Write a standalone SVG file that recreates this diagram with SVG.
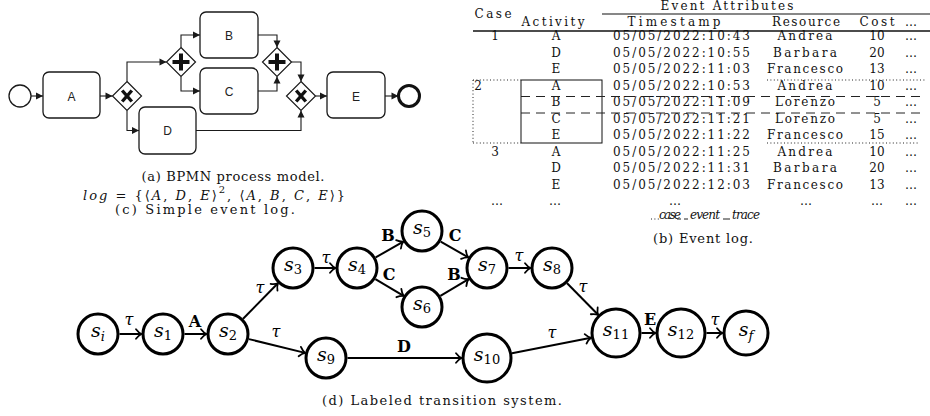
<svg xmlns="http://www.w3.org/2000/svg" width="930" height="416" viewBox="0 0 930 416">
  <defs>
    <marker id="tri" viewBox="-8 -5 9 10" refX="0" refY="0" markerWidth="9" markerHeight="10" markerUnits="userSpaceOnUse" orient="auto">
      <path d="M0,0 L-7,-3.5 L-7,3.5 Z" fill="#1a1a1a"/>
    </marker>
    <marker id="arr" viewBox="-8 -6 9 12" refX="0" refY="0" markerWidth="9" markerHeight="12" markerUnits="userSpaceOnUse" orient="auto" overflow="visible">
      <path d="M-5.5,-4.8 C-3.5,-2.2 -1.5,-0.7 0,0 C-1.5,0.7 -3.5,2.2 -5.5,4.8" fill="none" stroke="#000" stroke-width="1.8" stroke-linecap="round"/>
    </marker>
    <path id="diamond" d="M0,-14.5 L14.5,0 L0,14.5 L-14.5,0 Z"/>
  </defs>
  <style>
    .task { fill: #fff; stroke: #1a1a1a; stroke-width: 1.3; }
    .gw { fill: #fff; stroke: #1a1a1a; stroke-width: 1.2; }
    .gx { stroke: #111; stroke-width: 3.4; fill: none; }
    .gp { stroke: #111; stroke-width: 4; fill: none; }
    .bl { font-family: "Liberation Sans", Arial, sans-serif; font-size: 12px; fill: #222; text-anchor: middle; }
    .flow { fill: none; stroke: #1a1a1a; stroke-width: 1.1; marker-end: url(#tri); }
    .st { fill: #fff; stroke: #000; stroke-width: 3; }
    .sl { font-family: "DejaVu Serif", serif; font-size: 19px; font-style: italic; text-anchor: middle; fill: #000; }
    .sub { font-size: 13px; font-style: normal; }
    .subi { font-size: 13px; font-style: italic; }
    .ed { stroke: #000; stroke-width: 2; fill: none; marker-end: url(#arr); }
    .el { font-family: "DejaVu Serif", serif; font-size: 16px; font-weight: bold; text-anchor: middle; fill: #000; }
    .tau { font-family: "DejaVu Serif", serif; font-size: 16px; font-style: italic; text-anchor: middle; fill: #000; }
    .tb { font-family: "DejaVu Serif", serif; font-size: 12px; text-anchor: middle; fill: #111; }
    .cap { font-family: "DejaVu Serif", serif; font-size: 13px; text-anchor: middle; fill: #111; }
    .it { font-style: italic; }
    .rule { stroke: #111; fill: none; }
    .dot { stroke: #222; stroke-width: 1; stroke-dasharray: 1 2.4; fill: none; }
    .dash { stroke: #222; stroke-width: 1; stroke-dasharray: 9 6; fill: none; }
  </style>

  <rect width="930" height="416" fill="#fff"/>

  <!-- (a) BPMN process model -->
  <g id="bpmn">
    <g id="bpmn-flows">
      <path class="flow" d="M31,96 H43"/>
      <path class="flow" d="M100,96 H112.5"/>
      <path class="flow" d="M127,81.5 V62 H166.5"/>
      <path class="flow" d="M127,110.5 V130.5 H139"/>
      <path class="flow" d="M181,47.5 V35 H200"/>
      <path class="flow" d="M181,76.5 V91 H200"/>
      <path class="flow" d="M258,35 H277 V47.5"/>
      <path class="flow" d="M258,91 H277 V76.5"/>
      <path class="flow" d="M291.5,62 H301 V81.5"/>
      <path class="flow" d="M196,130.5 H301 V110.5"/>
      <path class="flow" d="M315.5,96 H327"/>
      <path class="flow" d="M385,96 H398.5"/>
    </g>
    <g id="start-event"><circle cx="20" cy="96" r="11" fill="#fff" stroke="#1a1a1a" stroke-width="1.3"/></g>
    <g id="task-A"><rect class="task" x="43" y="72" width="57" height="46" rx="6"/><text class="bl" x="71.5" y="100.5">A</text></g>
    <g id="xor-split" transform="translate(127,96)"><use href="#diamond" class="gw"/><path class="gx" d="M-4.8,-5.5 L4.8,5.5 M4.8,-5.5 L-4.8,5.5"/></g>
    <g id="and-split" transform="translate(181,62)"><use href="#diamond" class="gw"/><path class="gp" d="M-8.5,0 H8.5 M0,-8.5 V8.5"/></g>
    <g id="task-B"><rect class="task" x="200" y="12" width="58" height="46" rx="6"/><text class="bl" x="229" y="39.5">B</text></g>
    <g id="task-C"><rect class="task" x="200" y="68" width="58" height="46" rx="6"/><text class="bl" x="229" y="95.5">C</text></g>
    <g id="task-D"><rect class="task" x="139" y="107" width="57" height="47" rx="6"/><text class="bl" x="167.5" y="135">D</text></g>
    <g id="and-join" transform="translate(277,62)"><use href="#diamond" class="gw"/><path class="gp" d="M-8.5,0 H8.5 M0,-8.5 V8.5"/></g>
    <g id="xor-join" transform="translate(301,96)"><use href="#diamond" class="gw"/><path class="gx" d="M-4.8,-5.5 L4.8,5.5 M4.8,-5.5 L-4.8,5.5"/></g>
    <g id="task-E"><rect class="task" x="327" y="72" width="58" height="46" rx="6"/><text class="bl" x="356" y="100.5">E</text></g>
    <g id="end-event"><circle cx="409" cy="96" r="10.5" fill="#fff" stroke="#111" stroke-width="3"/></g>
  </g>
  <text class="cap" x="233" y="181" textLength="183">(a) BPMN process model.</text>
  <text class="cap" x="214" y="200" textLength="262"><tspan class="it">log</tspan> = {⟨<tspan class="it">A</tspan>, <tspan class="it">D</tspan>, <tspan class="it">E</tspan>⟩<tspan font-size="10" dy="-7">2</tspan><tspan dy="7">, ⟨</tspan><tspan class="it">A</tspan>, <tspan class="it">B</tspan>, <tspan class="it">C</tspan>, <tspan class="it">E</tspan>⟩}</text>
  <text class="cap" x="205" y="214" textLength="180">(c) Simple event log.</text>

  <!-- (b) Event log table -->
  <g id="event-log">
    <text class="tb" x="727" y="10" textLength="133">Event Attributes</text>
    <line class="rule" x1="602" y1="14" x2="930" y2="14" stroke-width="1.1"/>
    <text class="tb" x="493" y="18" textLength="37">Case</text>
    <text class="tb" x="553" y="26" textLength="63">Activity</text>
    <text class="tb" x="674" y="26" textLength="93">Timestamp</text>
    <text class="tb" x="806" y="26" textLength="68">Resource</text>
    <text class="tb" x="877" y="26" textLength="35">Cost</text>
    <text class="tb" x="911" y="26">…</text>
    <line class="rule" x1="473" y1="31" x2="930" y2="31" stroke-width="1.3"/>

    <g id="case-1">
      <text class="tb" x="495" y="40">1</text>
      <text class="tb" x="556" y="40">A</text><text class="tb" x="681.5" y="40" textLength="137">05/05/2022:10:43</text><text class="tb" x="805" y="40" textLength="55">Andrea</text><text class="tb" x="877" y="40">10</text><text class="tb" x="911" y="40">…</text>
      <text class="tb" x="556" y="56.5">D</text><text class="tb" x="681.5" y="56.5" textLength="137">05/05/2022:10:55</text><text class="tb" x="805" y="56.5" textLength="64">Barbara</text><text class="tb" x="877" y="56.5">20</text><text class="tb" x="911" y="56.5">…</text>
      <text class="tb" x="556" y="73">E</text><text class="tb" x="681.5" y="73" textLength="137">05/05/2022:11:03</text><text class="tb" x="805" y="73" textLength="76">Francesco</text><text class="tb" x="877" y="73">13</text><text class="tb" x="911" y="73">…</text>
    </g>
    <g id="case-2">
      <text class="tb" x="478" y="89.5">2</text>
      <text class="tb" x="556" y="89.5">A</text><text class="tb" x="681.5" y="89.5" textLength="137">05/05/2022:10:53</text><text class="tb" x="805" y="89.5" textLength="55">Andrea</text><text class="tb" x="877" y="89.5">10</text><text class="tb" x="911" y="89.5">…</text>
      <text class="tb" x="556" y="106">B</text><text class="tb" x="681.5" y="106" textLength="137">05/05/2022:11:09</text><text class="tb" x="805" y="106" textLength="60">Lorenzo</text><text class="tb" x="877" y="106">5</text><text class="tb" x="911" y="106">…</text>
      <text class="tb" x="556" y="122.5">C</text><text class="tb" x="681.5" y="122.5" textLength="137">05/05/2022:11:21</text><text class="tb" x="805" y="122.5" textLength="60">Lorenzo</text><text class="tb" x="877" y="122.5">5</text><text class="tb" x="911" y="122.5">…</text>
      <text class="tb" x="556" y="139">E</text><text class="tb" x="681.5" y="139" textLength="137">05/05/2022:11:22</text><text class="tb" x="805" y="139" textLength="76">Francesco</text><text class="tb" x="877" y="139">15</text><text class="tb" x="911" y="139">…</text>
    </g>
    <g id="case-3">
      <text class="tb" x="495" y="155.5">3</text>
      <text class="tb" x="556" y="155.5">A</text><text class="tb" x="681.5" y="155.5" textLength="137">05/05/2022:11:25</text><text class="tb" x="805" y="155.5" textLength="55">Andrea</text><text class="tb" x="877" y="155.5">10</text><text class="tb" x="911" y="155.5">…</text>
      <text class="tb" x="556" y="172">D</text><text class="tb" x="681.5" y="172" textLength="137">05/05/2022:11:31</text><text class="tb" x="805" y="172" textLength="64">Barbara</text><text class="tb" x="877" y="172">20</text><text class="tb" x="911" y="172">…</text>
      <text class="tb" x="556" y="188.5">E</text><text class="tb" x="681.5" y="188.5" textLength="137">05/05/2022:12:03</text><text class="tb" x="805" y="188.5" textLength="76">Francesco</text><text class="tb" x="877" y="188.5">13</text><text class="tb" x="911" y="188.5">…</text>
    </g>
    <g id="more-rows">
      <text class="tb" x="497" y="205">…</text><text class="tb" x="555" y="205">…</text><text class="tb" x="675" y="205">…</text><text class="tb" x="806" y="205">…</text><text class="tb" x="877" y="205">…</text><text class="tb" x="911" y="205">…</text>
    </g>

    <!-- case / event / trace markers -->
    <path class="dot" d="M473,80 V143 M473,80 H521 M767,80 H925 M473,143 H521 M767,143 H920"/>
    <rect x="521" y="80" width="81" height="63" fill="none" stroke="#111" stroke-width="1"/>
    <path class="dash" d="M521,96.5 H925 M521,113 H925"/>

    <g id="legend">
      <path class="dot" d="M651,219 H659"/>
      <text class="tb it" x="670" y="219" textLength="22" font-size="11">case</text>
      <path d="M677,219 H681 M684,219 H688" stroke="#222" stroke-width="1"/>
      <text class="tb it" x="705" y="219" textLength="30" font-size="11">event</text>
      <path d="M723,219 H730" stroke="#222" stroke-width="1"/>
      <text class="tb it" x="746" y="219" textLength="28" font-size="11">trace</text>
    </g>
  </g>
  <text class="cap" x="703" y="243" textLength="100">(b) Event log.</text>

  <!-- (d) Labeled transition system -->
  <g id="lts-edges">
    <line class="ed" x1="119.5" y1="334" x2="141.5" y2="334"/>
    <line class="ed" x1="184.5" y1="334" x2="206.5" y2="334"/>
    <line class="ed" x1="243.1" y1="318.7" x2="277.9" y2="283.3"/>
    <line class="ed" x1="248.9" y1="339.1" x2="305.1" y2="352.9"/>
    <line class="ed" x1="314.5" y1="268" x2="335.5" y2="268"/>
    <line class="ed" x1="375.7" y1="257.4" x2="403.3" y2="241.6"/>
    <line class="ed" x1="375.4" y1="279.1" x2="403.6" y2="295.9"/>
    <line class="ed" x1="440.7" y1="241.6" x2="468.3" y2="257.4"/>
    <line class="ed" x1="440.4" y1="295.9" x2="468.6" y2="279.1"/>
    <line class="ed" x1="508.5" y1="268" x2="530.5" y2="268"/>
    <line class="ed" x1="567.1" y1="283.3" x2="598.1" y2="314.8"/>
    <line class="ed" x1="347.5" y1="358" x2="461.5" y2="358"/>
    <line class="ed" x1="512" y1="353.2" x2="591" y2="337.8"/>
    <line class="ed" x1="641.5" y1="333" x2="655.5" y2="333"/>
    <line class="ed" x1="706.5" y1="333" x2="722.5" y2="333"/>

    <text class="tau" x="129" y="325">τ</text>
    <text class="el" x="195" y="327">A</text>
    <text class="tau" x="260" y="293">τ</text>
    <text class="tau" x="276" y="337">τ</text>
    <text class="tau" x="326" y="263">τ</text>
    <text class="el" x="388" y="241">B</text>
    <text class="el" x="389" y="280">C</text>
    <text class="el" x="455" y="241">C</text>
    <text class="el" x="454" y="280">B</text>
    <text class="tau" x="519" y="261">τ</text>
    <text class="tau" x="583" y="292">τ</text>
    <text class="el" x="404" y="352">D</text>
    <text class="tau" x="552" y="338">τ</text>
    <text class="el" x="650" y="325">E</text>
    <text class="tau" x="715" y="325">τ</text>
  </g>

  <g id="s-i"><circle class="st" cx="98" cy="334" r="20"/><text class="sl" x="98" y="337">s<tspan class="subi" dy="4">i</tspan></text></g>
  <g id="s-1"><circle class="st" cx="163" cy="334" r="20"/><text class="sl" x="163" y="337">s<tspan class="sub" dy="3">1</tspan></text></g>
  <g id="s-2"><circle class="st" cx="228" cy="334" r="20"/><text class="sl" x="228" y="337">s<tspan class="sub" dy="3">2</tspan></text></g>
  <g id="s-3"><circle class="st" cx="293" cy="268" r="20"/><text class="sl" x="293" y="271">s<tspan class="sub" dy="3">3</tspan></text></g>
  <g id="s-4"><circle class="st" cx="357" cy="268" r="20"/><text class="sl" x="357" y="271">s<tspan class="sub" dy="3">4</tspan></text></g>
  <g id="s-5"><circle class="st" cx="422" cy="231" r="20"/><text class="sl" x="422" y="234">s<tspan class="sub" dy="3">5</tspan></text></g>
  <g id="s-6"><circle class="st" cx="422" cy="307" r="20"/><text class="sl" x="422" y="310">s<tspan class="sub" dy="3">6</tspan></text></g>
  <g id="s-7"><circle class="st" cx="487" cy="268" r="20"/><text class="sl" x="487" y="271">s<tspan class="sub" dy="3">7</tspan></text></g>
  <g id="s-8"><circle class="st" cx="552" cy="268" r="20"/><text class="sl" x="552" y="271">s<tspan class="sub" dy="3">8</tspan></text></g>
  <g id="s-9"><circle class="st" cx="326" cy="358" r="20"/><text class="sl" x="326" y="361">s<tspan class="sub" dy="3">9</tspan></text></g>
  <g id="s-10"><circle class="st" cx="487" cy="358" r="24"/><text class="sl" x="487" y="361">s<tspan class="sub" dy="3">10</tspan></text></g>
  <g id="s-11"><circle class="st" cx="616" cy="333" r="24"/><text class="sl" x="616" y="336">s<tspan class="sub" dy="3">11</tspan></text></g>
  <g id="s-12"><circle class="st" cx="681" cy="333" r="24"/><text class="sl" x="681" y="336">s<tspan class="sub" dy="3">12</tspan></text></g>
  <g id="s-f"><circle class="st" cx="746" cy="333" r="22"/><text class="sl" x="746" y="336">s<tspan class="subi" dy="4">f</tspan></text></g>

  <text class="cap" x="442" y="405" textLength="240">(d) Labeled transition system.</text>
</svg>
